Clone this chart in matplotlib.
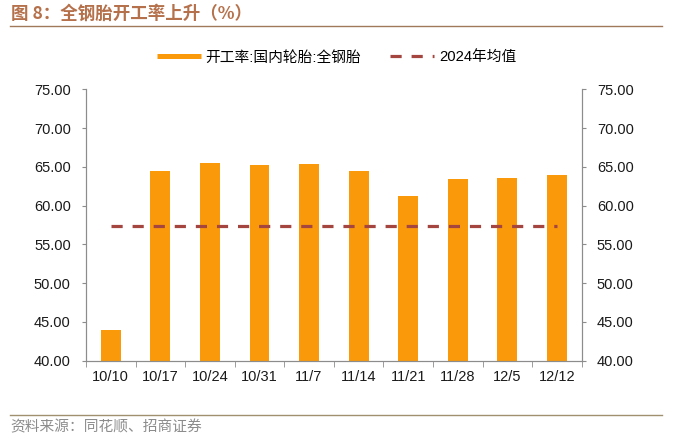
import numpy as np
import matplotlib.pyplot as plt
from matplotlib.lines import Line2D
from matplotlib.ticker import FormatStrFormatter, MultipleLocator

plt.rcParams['font.family'] = ['Liberation Sans', 'Noto Sans CJK SC', 'DejaVu Sans']

# data
dates = ['10/10', '10/17', '10/24', '10/31', '11/7', '11/14', '11/21', '11/28', '12/5', '12/12']
rate = [43.97, 64.5, 65.5, 65.3, 65.4, 64.5, 61.3, 63.4, 63.5, 64.0]
avg_2024 = [57.4] * len(dates)

bar_col = '#FA9A0A'
line_col = '#A5453F'
brown = '#B5714B'
spine_col = '#8C8C8C'

fig = plt.figure(figsize=(6.74, 4.45), dpi=100)
ax = fig.add_axes([0.1276, 0.1894, 0.7354, 0.6099])
x = np.arange(len(dates))
ax.bar(x, rate, width=0.4, color=bar_col, zorder=2)
ax.plot(x, avg_2024, color=line_col, lw=2.3, dashes=(3.5, 3.1), zorder=3)

ax.set_xlim(-0.5, len(dates) - 0.5)
ax.set_ylim(40, 75)
ax.yaxis.set_major_locator(MultipleLocator(5))
ax.yaxis.set_major_formatter(FormatStrFormatter('%.2f'))
ax.set_xticks(x)
ax.set_xticklabels(dates)
ax.set_xticks(np.arange(-0.5, len(dates)), minor=True)
ax.tick_params(axis='x', which='major', length=0, pad=7, labelsize=10.5, colors='#1a1a1a')
ax.tick_params(axis='x', which='minor', length=4, color=spine_col)
ax.tick_params(axis='y', length=3, color=spine_col, labelsize=10.5, labelcolor='#1a1a1a', pad=8)
ax.spines['top'].set_visible(False)
for s in ['left', 'right', 'bottom']:
    ax.spines[s].set_color(spine_col)

ax2 = ax.twinx()
ax2.set_ylim(40, 75)
ax2.yaxis.set_major_locator(MultipleLocator(5))
ax2.yaxis.set_major_formatter(FormatStrFormatter('%.2f'))
ax2.tick_params(axis='y', length=3, color=spine_col, labelsize=10.5, labelcolor='#1a1a1a', pad=8)
ax2.spines['top'].set_visible(False)
for s in ['left', 'right', 'bottom']:
    ax2.spines[s].set_color(spine_col)

handles = [Line2D([], [], color=bar_col, lw=3.6, solid_capstyle='butt'),
           Line2D([], [], color=line_col, lw=2.3, dashes=(3.5, 3.1))]
labels = ['开工率:国内轮胎:全钢胎', '2024年均值']
fig.legend(handles, labels, loc='center', bbox_to_anchor=(0.499, 0.871), ncol=2,
           frameon=False, fontsize=10.6, handlelength=3.0, handletextpad=0.3,
           columnspacing=2.0)

# title and source
fig.text(0.017, 0.968, '图 8：全钢胎开工率上升（%）', fontsize=12.6, fontweight='bold',
         color=brown, va='center', ha='left', family=['Noto Sans CJK SC', 'DejaVu Sans'])
fig.add_artist(Line2D([0.015, 0.982], [0.9416, 0.9416], color='#A0785A', lw=1.0))
fig.add_artist(Line2D([0.015, 0.982], [0.0674, 0.0674], color='#A09070', lw=1.0))
fig.text(0.015, 0.040, '资料来源：同花顺、招商证券', fontsize=10.6, color='#8C8C8C',
         va='center', ha='left', family=['Noto Sans CJK SC', 'DejaVu Sans'])

fig.savefig('out.png', dpi=100)
